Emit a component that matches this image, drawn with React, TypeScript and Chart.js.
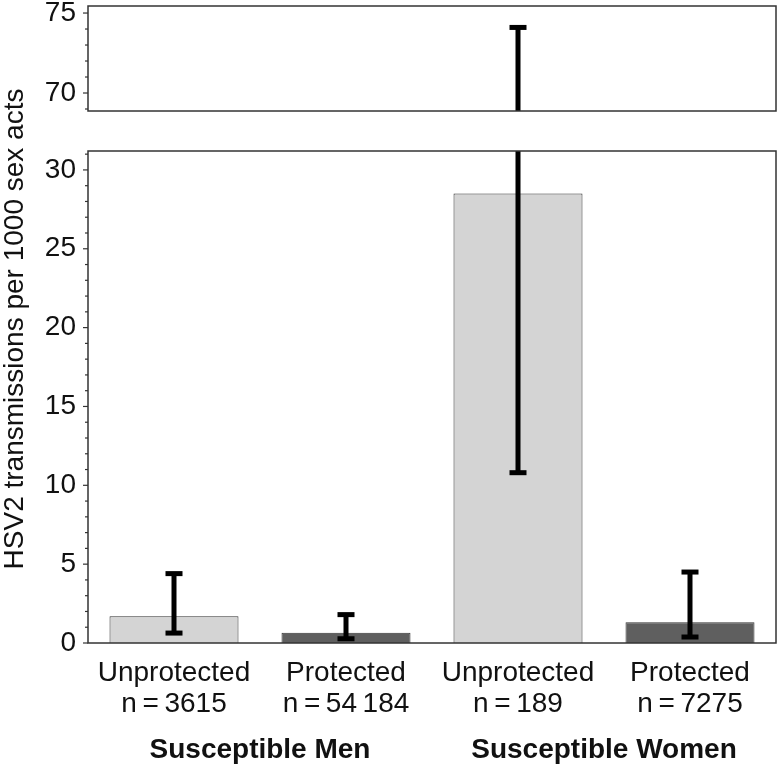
import React, { useEffect, useRef } from 'react';
import { Chart, registerables } from 'chart.js';

Chart.register(...registerables);

// ---- data ----
const categoryLabels: string[][] = [
  ['Unprotected', 'n\u2009=\u20093615'],
  ['Protected', 'n\u2009=\u200954\u2009184'],
  ['Unprotected', 'n\u2009=\u2009189'],
  ['Protected', 'n\u2009=\u20097275'],
];
const groupLabels = ['Susceptible Men', 'Susceptible Women'];
const groupCenters = [0.5, 2.5];
const rates = [1.69, 0.65, 28.5, 1.31];
const ciLower = [0.63, 0.27, 10.8, 0.38];
const ciUpper = [4.4, 1.8, 74.1, 4.5];
const barColors = ['#d4d4d4', '#5f5f5f', '#d4d4d4', '#5f5f5f'];
const yTitle = 'HSV2 transmissions per 1000 sex acts';
const topRange = [68.875, 75.44];
const bottomRange = [0, 31.2];

const FONT = "'Liberation Sans', Arial, sans-serif";

const framePlugin = {
  id: 'frameTicks',
  afterDraw(chart: any) {
    const { ctx, chartArea } = chart;
    const { left, top, right, bottom } = chartArea;
    const ys = chart.scales.y;
    ctx.save();
    ctx.strokeStyle = '#333';
    ctx.lineWidth = 1.5;
    ctx.strokeRect(left, top, right - left, bottom - top);
    ctx.lineWidth = 1.2;
    for (const t of ys.ticks) {
      if (t.value < ys.min || t.value > ys.max) continue;
      const y = ys.getPixelForValue(t.value);
      const len = t.value % 5 === 0 ? 5 : 3;
      ctx.beginPath();
      ctx.moveTo(left - len, y);
      ctx.lineTo(left, y);
      ctx.stroke();
    }
    ctx.restore();
  },
};

const errorBarPlugin = {
  id: 'errorBars',
  afterDatasetsDraw(chart: any) {
    const { ctx, chartArea } = chart;
    const xs = chart.scales.x;
    const ys = chart.scales.y;
    ctx.save();
    ctx.fillStyle = '#000';
    for (let i = 0; i < rates.length; i++) {
      const lo = ciLower[i];
      const hi = ciUpper[i];
      if (hi < ys.min || lo > ys.max) continue;
      const x = xs.getPixelForValue(i);
      const yLo = Math.min(chartArea.bottom, Math.max(chartArea.top, ys.getPixelForValue(lo)));
      const yHi = Math.min(chartArea.bottom, Math.max(chartArea.top, ys.getPixelForValue(hi)));
      ctx.fillRect(x - 2.5, yHi, 5, yLo - yHi);
      if (lo >= ys.min && lo <= ys.max) ctx.fillRect(x - 8.5, yLo - 2.5, 17, 5);
      if (hi >= ys.min && hi <= ys.max) ctx.fillRect(x - 8.5, yHi - 2.5, 17, 5);
    }
    ctx.restore();
  },
};

const textPlugin = {
  id: 'extraText',
  afterDraw(chart: any) {
    const { ctx } = chart;
    const xs = chart.scales.x;
    ctx.save();
    ctx.fillStyle = '#111';
    ctx.font = `28px ${FONT}`;
    ctx.textAlign = 'center';
    ctx.textBaseline = 'alphabetic';
    ctx.translate(23, 329);
    ctx.rotate(-Math.PI / 2);
    ctx.fillText(yTitle, 0, 0);
    ctx.restore();
    ctx.save();
    ctx.fillStyle = '#111';
    ctx.font = `bold 28px ${FONT}`;
    ctx.textAlign = 'center';
    ctx.textBaseline = 'alphabetic';
    groupLabels.forEach((g, i) => {
      ctx.fillText(g, xs.getPixelForValue(groupCenters[i]), 758);
    });
    ctx.restore();
  },
};

function yScale(min: number, max: number) {
  return {
    type: 'linear',
    min,
    max,
    grid: { display: false, drawTicks: false },
    border: { display: false },
    ticks: {
      stepSize: 1,
      autoSkip: false,
      includeBounds: false,
      padding: 12,
      color: '#111',
      font: { family: FONT, size: 28 },
      callback: (v: any) => (Number(v) % 5 === 0 ? String(v) : ''),
    },
    afterFit: (s: any) => {
      s.width = 88;
      s.paddingTop = 0;
      s.paddingBottom = 0;
    },
  };
}

function makeConfig(range: number[], isBottom: boolean): any {
  return {
    type: 'bar',
    data: {
      labels: categoryLabels,
      datasets: [
        {
          data: rates,
          backgroundColor: barColors,
          borderColor: '#333',
          borderWidth: 1,
          barPercentage: 0.75,
          categoryPercentage: 1,
        },
      ],
    },
    options: {
      responsive: false,
      animation: false,
      layout: {
        padding: isBottom
          ? { top: 151, right: 1, left: 0, bottom: 0 }
          : { top: 6, right: 1, left: 0, bottom: 9 },
      },
      plugins: { legend: { display: false }, tooltip: { enabled: false }, title: { display: false } },
      scales: {
        x: {
          type: 'category',
          display: isBottom,
          grid: { display: false, drawTicks: false },
          border: { display: false },
          ticks: {
            padding: 15,
            color: '#111',
            autoSkip: false,
            maxRotation: 0,
            minRotation: 0,
            font: { family: FONT, size: 28, lineHeight: 1.1 },
          },
          afterFit: (s: any) => {
            s.height = isBottom ? 127 : 0;
            s.paddingLeft = 0;
            s.paddingRight = 0;
          },
        },
        y: yScale(range[0], range[1]),
      },
    },
    plugins: isBottom ? [errorBarPlugin, framePlugin, textPlugin] : [errorBarPlugin, framePlugin],
  };
}

export default function App() {
  const topRef = useRef<HTMLCanvasElement | null>(null);
  const bottomRef = useRef<HTMLCanvasElement | null>(null);

  useEffect(() => {
    const bottom = new Chart(bottomRef.current as HTMLCanvasElement, makeConfig(bottomRange, true));
    const top = new Chart(topRef.current as HTMLCanvasElement, makeConfig(topRange, false));
    return () => {
      top.destroy();
      bottom.destroy();
    };
  }, []);

  return (
    <div style={{ position: 'absolute', left: 0, top: 0, width: 777, height: 770, background: '#fff' }}>
      <canvas
        ref={bottomRef}
        width={777}
        height={770}
        style={{ position: 'absolute', left: 0, top: 0, width: 777, height: 770, display: 'block' }}
      />
      <canvas
        ref={topRef}
        width={777}
        height={120}
        style={{ position: 'absolute', left: 0, top: 0, width: 777, height: 120, display: 'block' }}
      />
    </div>
  );
}
